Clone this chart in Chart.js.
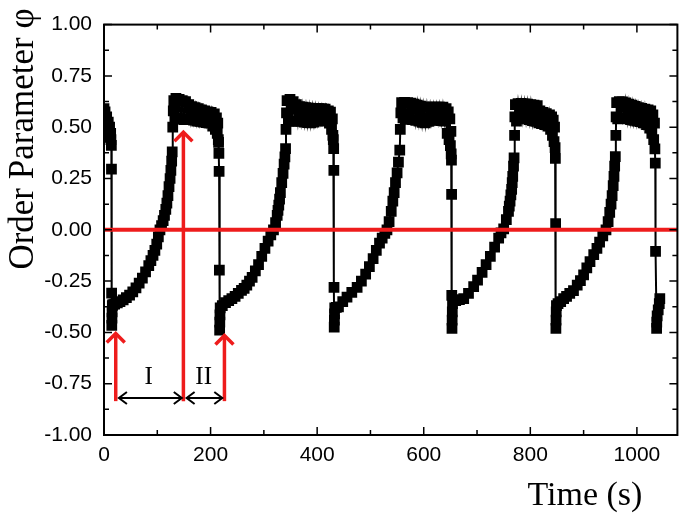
<!DOCTYPE html>
<html>
<head>
<meta charset="utf-8">
<script src="https://cdn.jsdelivr.net/npm/chart.js@4.4.0/dist/chart.umd.min.js"></script>
<style>
  html, body { margin: 0; padding: 0; background: #fff; }
  #wrap { width: 685px; height: 522px; }
</style>
</head>
<body>
<div id="wrap"><canvas id="phiChart" width="685" height="522"></canvas></div>
<script>
// time (s) and order parameter, one row per stretch of the curve
var timeSec = [
  0, 1, 2, 3.5, 5, 6.5, 8, 9.5, 10.5, 11.5, 12.5, 13, 13.8, 14, 14.3,
  14.6, 14.9, 15.2, 15.6,
  16.5, 20, 25, 30, 36, 42, 48, 54, 60, 66, 72, 78, 84, 88, 92, 95.5, 99, 102, 105, 108, 111, 113.5, 116, 118, 120, 122, 124, 125.5, 127, 128,
  129, 130, 131, 133, 135, 138, 141, 144, 147, 150, 153, 156, 159, 162, 165, 168, 171, 174, 177, 180, 183, 186, 189, 192, 195, 198, 201, 204, 207, 209, 211, 212.5, 213.5, 214.5, 215,
  215.6, 216, 216.5, 217, 217.3, 217.6, 218,
  222, 228, 234, 240, 246, 252, 258, 263, 268, 273, 278, 284, 290, 296, 302, 308, 313, 318, 322, 325, 326.5, 328, 329.5, 331, 333.5, 336, 338, 339.5, 340.7,
  341.5, 342.5, 343.5, 346, 349, 352, 355, 358, 361, 364, 367, 370, 373, 376, 379, 382, 385, 388, 391, 394, 397, 400, 403, 406, 409, 412, 415, 418, 421, 423, 425, 427, 428.5, 429.5, 430.3,
  431, 431.3, 431.6, 432, 432.3, 432.6, 433,
  436, 440, 448, 456, 465, 475, 483, 491, 498, 505, 511, 517, 522, 527, 531, 535, 539, 542, 544.5, 547, 550, 552.5, 555,
  556, 557, 558.5, 561, 564, 567, 570, 573, 576, 579, 582, 585, 588, 591, 594, 597, 600, 603, 606, 609, 612, 615, 618, 621, 624, 627, 630, 633, 636, 639, 642, 644, 646, 647.5, 649, 650, 651,
  651.5, 652, 652.3, 652.6, 653, 653.3, 653.6, 654,
  660, 667, 675, 684, 693.7, 701, 709.5, 717, 725, 733, 740.6, 745, 750, 755, 759, 760.5, 762, 763.5, 765, 766, 767, 768.5, 769.5,
  770.5, 771, 772, 774, 777, 780, 783, 786, 789, 792, 795, 798, 801, 804, 807, 810, 813, 816, 818, 821, 824, 827, 830, 833, 836, 838, 840, 841.5, 843, 844.5, 845.5, 846.5,
  847, 847.5, 848, 848.3, 848.6, 849,
  852, 857, 862.5, 868, 874, 881, 888, 894, 900, 906, 912, 919, 925, 930, 936, 942, 946, 949, 951.5, 953.5, 955.5, 957, 958.3, 959.5,
  960.5, 961, 962, 964, 967, 970, 973, 976, 979, 982, 985, 988, 991, 994, 997, 1000, 1003, 1006, 1009, 1012, 1015, 1018, 1021, 1024, 1026, 1028, 1030, 1031.5, 1033, 1033.8,
  1034.5, 1035, 1037, 1037.3, 1038, 1040, 1042, 1043
]
var orderPhi = [
  0.59, 0.50, 0.575, 0.49, 0.55, 0.47, 0.525, 0.46, 0.50, 0.45, 0.47, 0.44, 0.412, 0.296, -0.309,
  -0.466, -0.43, -0.40, -0.37,
  -0.365, -0.362, -0.356, -0.35, -0.341, -0.33, -0.318, -0.302, -0.283, -0.26, -0.235, -0.205, -0.175, -0.15, -0.125, -0.1, -0.07, -0.035, 0.0, 0.02, 0.045, 0.07, 0.1, 0.13, 0.166, 0.21, 0.25, 0.29, 0.335, 0.38,
  0.50, 0.58, 0.63, 0.54, 0.64, 0.545, 0.635, 0.54, 0.63, 0.537, 0.625, 0.537, 0.61, 0.537, 0.60, 0.535, 0.595, 0.53, 0.59, 0.528, 0.585, 0.525, 0.58, 0.522, 0.575, 0.52, 0.572, 0.505, 0.565, 0.49, 0.545, 0.47, 0.52, 0.44, 0.426,
  0.372, 0.285, -0.197, -0.489, -0.45, -0.415, -0.381,
  -0.37, -0.355, -0.345, -0.335, -0.325, -0.31, -0.295, -0.285, -0.27, -0.25, -0.232, -0.20, -0.17, -0.13, -0.09, -0.055, -0.025, 0.0, 0.035, 0.07, 0.095, 0.12, 0.15, 0.181, 0.23, 0.275, 0.32, 0.355, 0.396,
  0.49, 0.57, 0.63, 0.53, 0.635, 0.529, 0.625, 0.529, 0.61, 0.53, 0.60, 0.529, 0.598, 0.525, 0.595, 0.522, 0.593, 0.521, 0.592, 0.525, 0.592, 0.529, 0.59, 0.533, 0.59, 0.537, 0.588, 0.53, 0.58, 0.52, 0.574, 0.49, 0.54, 0.46, 0.44,
  0.396, 0.29, -0.28, -0.474, -0.44, -0.41, -0.38,
  -0.378, -0.376, -0.35, -0.328, -0.305, -0.28, -0.25, -0.216, -0.18, -0.14, -0.10, -0.065, -0.04, -0.018, 0.0, 0.04, 0.09, 0.14, 0.181, 0.23, 0.277, 0.33, 0.388,
  0.49, 0.57, 0.62, 0.545, 0.621, 0.54, 0.62, 0.538, 0.617, 0.537, 0.613, 0.533, 0.608, 0.53, 0.603, 0.524, 0.598, 0.521, 0.598, 0.528, 0.598, 0.533, 0.598, 0.537, 0.598, 0.535, 0.598, 0.532, 0.598, 0.529, 0.59, 0.47, 0.575, 0.44, 0.54, 0.41, 0.48,
  0.37, 0.34, 0.173, -0.32, -0.48, -0.44, -0.40, -0.36,
  -0.345, -0.34, -0.336, -0.31, -0.277, -0.245, -0.208, -0.17, -0.129, -0.085, -0.041, -0.015, 0.005, 0.05, 0.09, 0.115, 0.14, 0.17, 0.197, 0.23, 0.26, 0.31, 0.35,
  0.46, 0.55, 0.61, 0.53, 0.615, 0.545, 0.616, 0.542, 0.614, 0.54, 0.612, 0.537, 0.61, 0.532, 0.608, 0.528, 0.605, 0.521, 0.58, 0.518, 0.572, 0.512, 0.566, 0.505, 0.56, 0.489, 0.55, 0.46, 0.535, 0.43, 0.50, 0.40,
  0.348, 0.03, -0.48, -0.44, -0.40, -0.37,
  -0.36, -0.35, -0.335, -0.325, -0.31, -0.296, -0.27, -0.248, -0.22, -0.185, -0.155, -0.121, -0.09, -0.06, -0.03, 0.0, 0.04, 0.085, 0.125, 0.166, 0.215, 0.26, 0.31, 0.357,
  0.46, 0.55, 0.62, 0.54, 0.625, 0.545, 0.624, 0.542, 0.618, 0.54, 0.612, 0.537, 0.607, 0.533, 0.601, 0.53, 0.596, 0.527, 0.592, 0.521, 0.588, 0.512, 0.585, 0.495, 0.58, 0.47, 0.56, 0.44, 0.52, 0.394,
  0.325, -0.105, -0.48, -0.45, -0.42, -0.39, -0.36, -0.335
]

// axis range
var timeMax = 1076
var phiMin = -1
var phiMax = 1

// red arrows (time, tip) and the black I / II spans
var arrowTimes = [22, 149, 226]
var arrowTips = [-0.50, 0.48, -0.51]
var arrowFoot = -0.835
var spanStarts = [28, 155]
var spanEnds = [146, 222]
var spanPhi = -0.82
var spanLabels = ['I', 'II']
var labelTimes = [84, 187]
var labelPhi = -0.75

var RED = '#ee1c1c'
var SERIF = "'Liberation Serif', 'Times New Roman', serif"

var points = timeSec.map(function (t, i) {
  return { x: t, y: orderPhi[i] }
})

Chart.defaults.font.family = "'Liberation Sans', Arial, sans-serif"
Chart.defaults.color = '#000'

function headV (ctx, x, y, dx, dy) {
  ctx.beginPath()
  ctx.moveTo(x + dx, y + dy)
  ctx.lineTo(x, y)
  ctx.lineTo(x + dx, y - dy)
  ctx.stroke()
}

var overlay = {
  id: 'overlay',
  afterDatasetsDraw: function (chart) {
    var ctx = chart.ctx
    var a = chart.chartArea
    var xs = chart.scales.x
    var ys = chart.scales.y
    ctx.save()

    // zero line
    var y0 = ys.getPixelForValue(0)
    ctx.strokeStyle = RED
    ctx.lineWidth = 4
    ctx.beginPath()
    ctx.moveTo(a.left, y0)
    ctx.lineTo(a.right, y0)
    ctx.stroke()

    // red arrows
    ctx.lineWidth = 3.5
    ctx.lineJoin = 'miter'
    arrowTimes.forEach(function (t, i) {
      var px = xs.getPixelForValue(t)
      var yb = ys.getPixelForValue(arrowFoot)
      var yt = ys.getPixelForValue(arrowTips[i])
      ctx.beginPath()
      ctx.moveTo(px, yb)
      ctx.lineTo(px, yt + 1)
      ctx.stroke()
      ctx.beginPath()
      ctx.moveTo(px - 9, yt + 10)
      ctx.lineTo(px, yt + 1)
      ctx.lineTo(px + 9, yt + 10)
      ctx.stroke()
    })

    // black spans with heads at both ends
    ctx.strokeStyle = '#000'
    ctx.lineWidth = 2
    var ys2 = ys.getPixelForValue(spanPhi)
    spanStarts.forEach(function (t, i) {
      var x1 = xs.getPixelForValue(t)
      var x2 = xs.getPixelForValue(spanEnds[i])
      ctx.beginPath()
      ctx.moveTo(x1, ys2)
      ctx.lineTo(x2, ys2)
      ctx.stroke()
      headV(ctx, x1, ys2, 8, 6)
      headV(ctx, x2, ys2, -8, 6)
    })

    ctx.fillStyle = '#000'
    ctx.font = '25px ' + SERIF
    ctx.textAlign = 'center'
    ctx.textBaseline = 'alphabetic'
    spanLabels.forEach(function (s, i) {
      ctx.fillText(s, xs.getPixelForValue(labelTimes[i]), ys.getPixelForValue(labelPhi))
    })
    ctx.restore()
  },
  afterDraw: function (chart) {
    var ctx = chart.ctx
    var a = chart.chartArea
    var xs = chart.scales.x
    var ys = chart.scales.y
    ctx.save()
    ctx.strokeStyle = '#000'
    ctx.lineWidth = 2
    ctx.strokeRect(a.left, a.top, a.right - a.left, a.bottom - a.top)

    // inward ticks on all four sides
    ctx.lineWidth = 1.5
    ctx.beginPath()
    for (var t = 0; t <= timeMax; t += 100) {
      var px = xs.getPixelForValue(t)
      var len = t % 200 === 0 ? 8 : 5
      ctx.moveTo(px, a.bottom)
      ctx.lineTo(px, a.bottom - len)
      ctx.moveTo(px, a.top)
      ctx.lineTo(px, a.top + len)
    }
    for (var k = 0; k <= 16; k++) {
      var v = phiMin + k * 0.125
      var py = ys.getPixelForValue(v)
      var l2 = k % 2 === 0 ? 8 : 5
      ctx.moveTo(a.left, py)
      ctx.lineTo(a.left + l2, py)
      ctx.moveTo(a.right, py)
      ctx.lineTo(a.right - l2, py)
    }
    ctx.stroke()

    // axis titles
    ctx.fillStyle = '#000'
    ctx.font = '34px ' + SERIF
    ctx.textAlign = 'right'
    ctx.textBaseline = 'alphabetic'
    ctx.fillText('Time (s)', a.right - 35, 505)

    ctx.font = '35px ' + SERIF
    ctx.translate(33, 139)
    ctx.rotate(-Math.PI / 2)
    ctx.textAlign = 'center'
    ctx.fillText('Order Parameter \u03c6', 0, 0)
    ctx.restore()
  }
}

var phiChart = new Chart(document.getElementById('phiChart'), {
  type: 'line',
  data: {
    datasets: [{
      data: points,
      borderColor: '#000',
      backgroundColor: '#000',
      borderWidth: 2,
      pointStyle: 'rect',
      pointRadius: 7.6,
      pointBorderWidth: 0,
      pointBackgroundColor: '#000',
      tension: 0,
      clip: 0
    }]
  },
  options: {
    responsive: false,
    animation: false,
    events: [],
    layout: { padding: { top: 16, right: 7, left: 0, bottom: 0 } },
    plugins: { legend: { display: false }, tooltip: { enabled: false } },
    scales: {
      x: {
        type: 'linear',
        min: 0,
        max: timeMax,
        grid: { display: false, drawTicks: false },
        border: { display: false },
        ticks: {
          stepSize: 200,
          includeBounds: false,
          autoSkip: false,
          maxRotation: 0,
          padding: 8,
          font: { size: 21 },
          callback: function (v) { return String(v) }
        },
        afterFit: function (scale) { scale.height = 87 }
      },
      y: {
        min: phiMin,
        max: phiMax,
        grid: { display: false, drawTicks: false },
        border: { display: false },
        ticks: {
          stepSize: 0.25,
          padding: 12,
          font: { size: 21 },
          callback: function (v) { return Number(v).toFixed(2) }
        },
        afterFit: function (scale) { scale.width = 104 }
      }
    }
  },
  plugins: [overlay]
})
</script>
</body>
</html>
